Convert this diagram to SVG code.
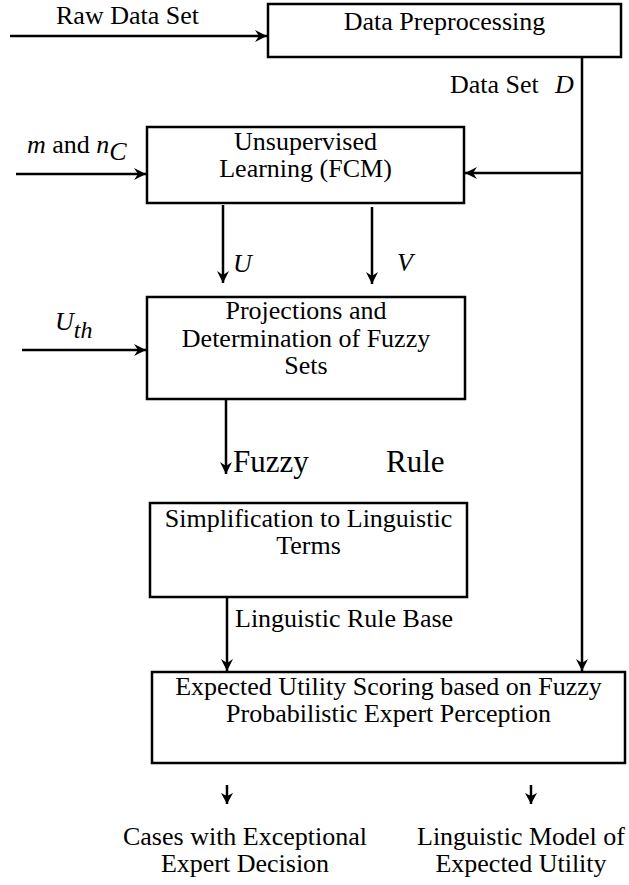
<svg xmlns="http://www.w3.org/2000/svg" width="629" height="885" viewBox="0 0 629 885">
<style>
text{font-family:"Liberation Serif","Times New Roman",serif;font-size:26px;fill:#000}
.c{text-anchor:middle}
.i{font-style:italic}
.box{fill:#fff;stroke:#000;stroke-width:2.5}
.ln{fill:none;stroke:#000;stroke-width:2.5}
.big{font-size:31px}
</style>
<defs>
<marker id="ah" markerUnits="userSpaceOnUse" markerWidth="14" markerHeight="12" refX="12" refY="6" orient="auto" viewBox="0 0 14 12">
<path d="M0,0 L12,6 L0,12 L4,6 z" fill="#000"/>
</marker>
<marker id="ahs" markerUnits="userSpaceOnUse" markerWidth="12" markerHeight="12" refX="11" refY="6" orient="auto" viewBox="0 0 12 12">
<path d="M0,0 L11,6 L0,12 L3,6 z" fill="#000"/>
</marker>
</defs>
<rect width="629" height="885" fill="#fff"/>

<g id="connectors">
<line class="ln" x1="10" y1="36" x2="267" y2="36" marker-end="url(#ah)"/>
<line class="ln" x1="582" y1="57" x2="582" y2="671" marker-end="url(#ah)"/>
<line class="ln" x1="582" y1="173" x2="465" y2="173" marker-end="url(#ah)"/>
<line class="ln" x1="16" y1="174" x2="146" y2="174" marker-end="url(#ah)"/>
<line class="ln" x1="223" y1="205" x2="223" y2="283" marker-end="url(#ah)"/>
<line class="ln" x1="372" y1="207" x2="372" y2="284" marker-end="url(#ah)"/>
<line class="ln" x1="22" y1="350" x2="146" y2="350" marker-end="url(#ah)"/>
<line class="ln" x1="226" y1="399" x2="226" y2="474" marker-end="url(#ah)"/>
<line class="ln" x1="227" y1="597" x2="227" y2="671" marker-end="url(#ah)"/>
<line class="ln" x1="227" y1="785" x2="227" y2="804" stroke-width="2" marker-end="url(#ahs)"/>
<line class="ln" x1="531" y1="785" x2="531" y2="804" stroke-width="2" marker-end="url(#ahs)"/>
</g>

<g id="labels">
<text x="56" y="24">Raw Data Set</text>
<text x="450" y="93">Data Set <tspan x="555" class="i">D</tspan></text>
<text x="27" y="153"><tspan class="i">m</tspan> and <tspan class="i">n</tspan><tspan class="i" dy="7">C</tspan></text>
<text x="233" y="272" class="i">U</text>
<text x="397" y="271" class="i">V</text>
<text x="55" y="330" class="i">U<tspan dy="8" font-size="24">th</tspan></text>
<text x="233" y="472" class="big">Fuzzy</text>
<text x="386" y="472" class="big">Rule</text>
<text x="235" y="627">Linguistic Rule Base</text>
</g>

<g id="n-preprocessing">
<rect class="box" x="268" y="4" width="353" height="53"/>
<text class="c" x="444.5" y="30">Data Preprocessing</text>
</g>

<g id="n-fcm">
<rect class="box" x="147" y="127" width="317" height="76"/>
<text class="c" x="305.5" y="150">Unsupervised</text>
<text class="c" x="305.5" y="177">Learning (FCM)</text>
</g>

<g id="n-projections">
<rect class="box" x="147" y="297" width="318" height="102"/>
<text class="c" x="306" y="319">Projections and</text>
<text class="c" x="306" y="347">Determination of Fuzzy</text>
<text class="c" x="306" y="374">Sets</text>
</g>

<g id="n-simplification">
<rect class="box" x="150" y="503" width="317" height="94"/>
<text class="c" x="308.5" y="527">Simplification to Linguistic</text>
<text class="c" x="308.5" y="554">Terms</text>
</g>

<g id="n-scoring">
<rect class="box" x="152" y="672" width="473" height="91"/>
<text class="c" x="388.5" y="695">Expected Utility Scoring based on Fuzzy</text>
<text class="c" x="388.5" y="722">Probabilistic Expert Perception</text>
</g>

<g id="n-cases">
<text class="c" x="245" y="845">Cases with Exceptional</text>
<text class="c" x="245" y="872">Expert Decision</text>
</g>

<g id="n-model">
<text class="c" x="521" y="845">Linguistic Model of</text>
<text class="c" x="521" y="872">Expected Utility</text>
</g>
</svg>
